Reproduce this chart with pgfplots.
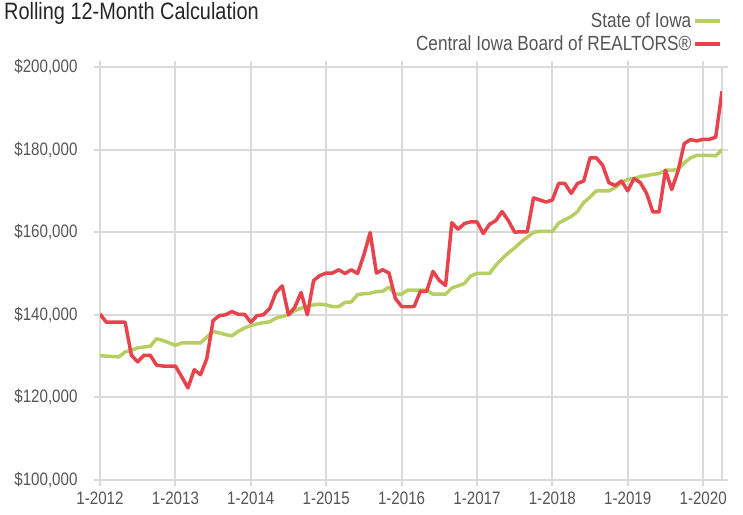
\documentclass[border=0pt]{standalone}
\usepackage{fontspec}
\setmainfont{Liberation Sans}[FakeStretch=0.84]
\usepackage{pgfplots}
\usepackage{pgfplotstable}
\pgfplotsset{compat=1.18}
\definecolor{iowagreen}{RGB}{183,207,98}
\definecolor{cirred}{RGB}{232,66,76}
\definecolor{gridgray}{RGB}{218,218,218}
\definecolor{txtgray}{RGB}{85,85,85}
\pgfplotstableread{
m green red
0 130.1 140.2
1 130.0 138.2
2 129.9 138.2
3 129.8 138.2
4 131.0 138.2
5 131.4 130.2
6 132.0 128.6
7 132.2 130.2
8 132.4 130.2
9 134.2 127.8
10 133.8 127.6
11 133.2 127.6
12 132.6 127.6
13 133.2 125.0
14 133.2 122.3
15 133.2 126.7
16 133.2 125.5
17 134.6 129.4
18 136.0 138.6
19 135.6 139.8
20 135.2 140.0
21 134.9 140.8
22 136.0 140.1
23 136.8 140.1
24 137.4 138.2
25 137.8 139.8
26 138.1 140.0
27 138.3 141.5
28 139.2 145.4
29 139.6 147.0
30 140.0 140.0
31 141.0 141.8
32 141.6 145.4
33 142.0 140.0
34 142.4 148.3
35 142.6 149.5
36 142.4 150.1
37 142.0 150.1
38 142.0 150.9
39 143.0 150.0
40 143.1 150.9
41 144.9 150.0
42 145.1 154.5
43 145.2 159.9
44 145.6 150.1
45 145.7 150.9
46 146.7 150.1
47 145.0 144.0
48 145.0 142.0
49 146.0 142.0
50 146.0 142.0
51 146.0 145.7
52 146.0 145.7
53 145.0 150.5
54 145.0 148.3
55 145.0 147.1
56 146.5 162.3
57 147.0 160.7
58 147.6 162.1
59 149.4 162.5
60 150.0 162.5
61 150.0 159.7
62 150.0 161.9
63 152.0 162.8
64 153.6 165.0
65 155.0 162.8
66 156.2 160.0
67 157.6 160.1
68 158.8 160.1
69 160.0 168.3
70 160.2 167.8
71 160.2 167.3
72 160.2 167.8
73 162.2 171.8
74 163.0 171.8
75 163.8 169.4
76 165.0 171.8
77 167.2 172.4
78 168.5 178.0
79 170.0 178.0
80 170.0 176.2
81 170.0 172.0
82 170.8 171.3
83 172.0 172.4
84 172.8 170.0
85 173.0 173.0
86 173.5 172.0
87 173.7 169.4
88 174.0 164.9
89 174.2 164.9
90 175.0 175.0
91 175.0 170.3
92 175.2 174.8
93 176.8 181.5
94 178.0 182.4
95 178.6 182.1
96 178.6 182.5
97 178.6 182.5
98 178.5 183.0
99 180.0 194.1
}\datatable
\begin{document}
\begin{tikzpicture}
\useasboundingbox (0,0) rectangle (743bp,515bp);
\node[anchor=north west, inner sep=0pt, font=\fontsize{23.7bp}{26bp}\selectfont, text=black!85] at (4bp,513bp) {Rolling 12-Month Calculation};
\begin{axis}[
  at={(100bp,35bp)}, anchor=south west,
  scale only axis, width=622bp, height=413bp,
  xmin=0, xmax=99, ymin=100, ymax=200,
  xtick={0,12,24,36,48,60,72,84,96},
  xticklabels={1-2012,1-2013,1-2014,1-2015,1-2016,1-2017,1-2018,1-2019,1-2020},
  ytick={100,120,140,160,180,200},
  yticklabels={{\$100,000},{\$120,000},{\$140,000},{\$160,000},{\$180,000},{\$200,000}},
  grid=major,
  major grid style={draw=gridgray, line width=2bp},
  axis line style={draw=gridgray, line width=2bp},
  tick style={draw=gridgray, line width=2bp},
  tick align=outside, major tick length=6bp,
  ticklabel style={font=\fontsize{18bp}{20bp}\selectfont, text=txtgray},
  xticklabel style={inner ysep=0pt, text depth=0pt, yshift=-5.5bp},
  yticklabel style={xshift=-13bp},
  legend plot pos=right,
  legend cell align=right,
  legend style={at={(1,1.03)}, anchor=south east, draw=none, fill=none,
    font=\fontsize{20.5bp}{22bp}\selectfont, text=txtgray, inner sep=0pt,
    row sep=3bp},
  legend image code/.code={\draw[#1, line width=3.5bp] (0bp,0bp) -- (25bp,0bp);},
]
\addplot[iowagreen, line width=3.5bp, line join=round] table[x=m, y=green] {\datatable};
\addlegendentry{State of Iowa}
\addplot[cirred, line width=3.5bp, line join=round] table[x=m, y=red] {\datatable};
\addlegendentry{Central Iowa Board of REALTORS®}
\end{axis}
\end{tikzpicture}
\end{document}
